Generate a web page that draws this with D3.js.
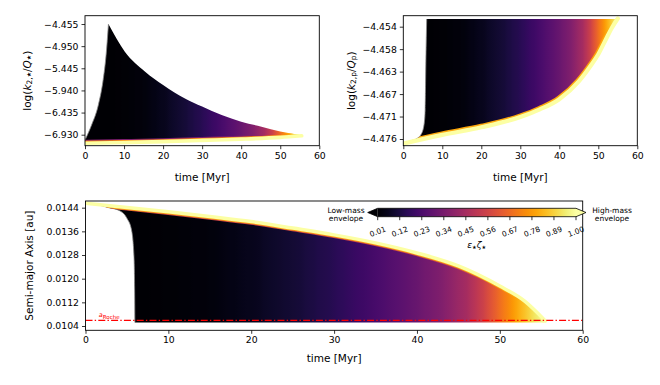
<!DOCTYPE html>
<html>
<head>
<meta charset="utf-8">
<script src="https://cdn.jsdelivr.net/npm/d3@7"></script>
<style>
  body { margin: 0; background: #fff; }
  svg { display: block; font-family: "DejaVu Sans", sans-serif; }
</style>
</head>
<body>
<svg id="main" width="660" height="385"></svg>
<script>
const endTime = [6, 15, 20, 25, 30, 35, 40, 43, 46, 48, 50, 52, 54, 55.5];
const endEps  = [0.01, 0.03, 0.06, 0.10, 0.15, 0.22, 0.30, 0.36, 0.45, 0.55, 0.68, 0.80, 0.92, 1.00];

const cbTicks = [0.01, 0.12, 0.23, 0.34, 0.45, 0.56, 0.67, 0.78, 0.89, 1.00];
const timeTicks = [0, 10, 20, 30, 40, 50, 60];

// top left: log(k2*/Q*)
const starTicks  = [-4.455, -4.950, -5.445, -5.940, -6.435, -6.930];
const starRiseT  = [0, 1.7, 3.4, 4.7, 5.4, 6.0];
const starRiseV  = [-7.05, -6.71, -6.27, -5.67, -5.15, -4.455];
const starDecayT = [6, 10.2, 15.4, 20, 25.6, 30, 35, 40, 45.2, 50, 55.5];
const starDecayV = [-4.455, -5.074, -5.52, -5.82, -6.12, -6.30, -6.49, -6.64, -6.75, -6.86, -6.94];
const starBaseT  = [0, 10, 20, 30, 40, 50, 55.5];
const starBaseV  = [-7.12, -7.105, -7.085, -7.058, -7.03, -6.99, -6.955];

// top right: log(k2p/Qp)
const planetTicks = [-4.4758, -4.4714, -4.4670, -4.4626, -4.4582, -4.4538];
const planetRiseT = [0, 1.7, 3.5, 4.7, 5.4, 5.6, 5.8, 6.0];
const planetRiseV = [-4.4767, -4.4762, -4.4757, -4.4747, -4.4725, -4.4700, -4.4600, -4.4523];
const planetCapT  = [6, 55];
const planetCapV  = [-4.4523, -4.4523];
const planetBaseT = [0, 10, 20, 30, 35, 40, 45, 48, 50, 52, 53.5, 55];
const planetBaseV = [-4.4767, -4.4750, -4.4735, -4.4715, -4.4700, -4.4680, -4.4645, -4.4615, -4.4592, -4.4562, -4.4540, -4.4522];

// bottom: semi-major axis
const aTicks  = [0.0144, 0.0136, 0.0128, 0.0120, 0.0112, 0.0104];
const aRoche  = 0.010592;
const aTopT   = [0, 5, 10, 15, 20, 25, 30, 35, 40, 45, 50, 53, 55.5];
const aTopV   = [0.01455, 0.01441, 0.01426, 0.01410, 0.01393, 0.01371, 0.01348, 0.01321, 0.01287, 0.01243, 0.01175, 0.01124, 0.01057];
const aDropT  = [1.5, 2.65, 4.1, 5.0, 5.56, 5.85, 5.93, 5.96];
const aDropV  = [0.0145, 0.01441, 0.0143, 0.01404, 0.01364, 0.01274, 0.01162, 0.01052];
const aFloorT = [55.5, 5.96];
const aFloorV = [0.01052, 0.01052];

const svg = d3.select('#main');
const defs = svg.append('defs');
const color = d3.scaleSequential(d3.interpolateInferno).domain([0.01, 1]).clamp(true);
const epsAt = d3.scaleLinear().domain(endTime).range(endEps).clamp(true);
const yellow = color(1);

const pts = (ts, vs) => ts.map((t, i) => [t, vs[i]]);
const rev = a => a.slice().reverse();
const joinPaths = (...ds) => ds.map((d, i) => i ? d.replace(/^M/, 'L') : d).join('') + 'Z';


function panel(id, box, yDomain) {
  const x = d3.scaleLinear().domain([0, 60]).range([box.left, box.right]);
  const y = d3.scaleLinear().domain(yDomain).range([box.bottom, box.top]);

  defs.append('clipPath').attr('id', id + '-axes')
    .append('rect')
      .attr('x', box.left).attr('y', box.top)
      .attr('width', box.right - box.left).attr('height', box.bottom - box.top);

  // horizontal gradient; floor lets the edge bands never be darker than the runs under them
  const gradient = (gid, floor) => {
    const t0 = endTime[0], t1 = endTime[endTime.length - 1];
    const grad = defs.append('linearGradient')
        .attr('id', gid)
        .attr('gradientUnits', 'userSpaceOnUse')
        .attr('x1', x(t0)).attr('x2', x(t1)).attr('y1', 0).attr('y2', 0);
    d3.range(t0, t1 + 0.01, 0.5).forEach(t => {
      grad.append('stop')
        .attr('offset', (t - t0) / (t1 - t0))
        .attr('stop-color', color(Math.max(floor, epsAt(t))));
    });
    return `url(#${gid})`;
  };

  const g = svg.append('g').attr('clip-path', `url(#${id}-axes)`);
  const edge = (ts, vs) => d3.line()
      .x(d => x(d[0])).y(d => y(d[1]))
      .curve(d3.curveMonotoneX)(pts(ts, vs));

  return {id, box, x, y, g, edge, gradient};
}


function fill(p, d, bandPath, bands, yellowWidth, rimPath) {
  p.g.append('path').attr('d', d).attr('fill', p.gradient(p.id + '-grad', 0));

  if (rimPath) {
    p.g.append('path')
      .attr('d', rimPath)
      .attr('fill', 'none')
      .attr('stroke', '#8a8a8a')
      .attr('stroke-width', 0.8);
  }

  defs.append('clipPath').attr('id', p.id + '-fill').append('path').attr('d', d);
  const inner = p.g.append('g').attr('clip-path', `url(#${p.id}-fill)`);
  bands.forEach((b, i) => {
    inner.append('path')
      .attr('d', bandPath)
      .attr('fill', 'none')
      .attr('stroke', p.gradient(`${p.id}-band${i}`, b.eps))
      .attr('stroke-width', b.width);
  });
  p.g.append('path')
    .attr('d', bandPath)
    .attr('fill', 'none')
    .attr('stroke', yellow)
    .attr('stroke-width', yellowWidth)
    .attr('stroke-linecap', 'round');
}


function axes(p, yTicks, yFmt, xLabelY) {
  const b = p.box;
  svg.append('g')
      .attr('transform', `translate(0,${b.bottom})`)
      .call(d3.axisBottom(p.x).tickValues(timeTicks).tickSize(3.5).tickPadding(3).tickSizeOuter(0))
      .call(styleAxis);
  svg.append('g')
      .attr('transform', `translate(${b.left},0)`)
      .call(d3.axisLeft(p.y).tickValues(yTicks).tickFormat(yFmt).tickSize(3.5).tickPadding(3).tickSizeOuter(0))
      .call(styleAxis);
  svg.append('rect')
      .attr('x', b.left).attr('y', b.top)
      .attr('width', b.right - b.left).attr('height', b.bottom - b.top)
      .attr('fill', 'none').attr('stroke', '#000').attr('stroke-width', 0.9);
  svg.append('text')
      .attr('x', (b.left + b.right) / 2).attr('y', xLabelY)
      .attr('text-anchor', 'middle').attr('dominant-baseline', 'central')
      .attr('font-size', 10.5)
      .text('time [Myr]');

  function styleAxis(g) {
    g.select('.domain').remove();
    g.attr('font-family', 'DejaVu Sans').attr('font-size', 9.3);
    g.selectAll('.tick line').attr('stroke-width', 0.8);
  }
}


// parts: [text, kind] with kind '' (upright), 'i' (italic), 'sub', 'star' (subscript star)
function mathText(t, parts, subSize) {
  parts.forEach(([s, kind]) => {
    const span = t.append('tspan').text(s);
    if (kind === 'i') span.attr('font-style', 'italic');
    if (kind === 'sub') span.attr('font-size', subSize).attr('baseline-shift', '-25%');
    if (kind === 'star') span.attr('font-size', subSize * 0.8).attr('baseline-shift', '-30%');
  });
}

function yLabel(x, y, parts) {
  const t = svg.append('text')
      .attr('transform', `translate(${x},${y}) rotate(-90)`)
      .attr('text-anchor', 'middle')
      .attr('dominant-baseline', 'central')
      .attr('font-size', 10.5);
  mathText(t, parts, 7.5);
}


// ---- top left
const tl = panel('tl', {left: 85, right: 319.3, top: 15.7, bottom: 145.7}, [-7.176, -4.269]);
fill(tl,
  joinPaths(tl.edge(starRiseT, starRiseV), tl.edge(starDecayT, starDecayV), tl.edge(rev(starBaseT), rev(starBaseV))),
  tl.edge(starBaseT, starBaseV),
  [{eps: 0.35, width: 7}, {eps: 0.75, width: 5}],
  3.6,
  tl.edge(starRiseT, starRiseV));
axes(tl, starTicks, d3.format('.3f'), 177);
yLabel(27, 80.7, [['log(', ''], ['k', 'i'], ['2,', 'sub'], ['★', 'star'], ['/', ''], ['Q', 'i'], ['★', 'star'], [')', '']]);

// ---- top right
const tr = panel('tr', {left: 403.3, right: 637.3, top: 15.7, bottom: 145.7}, [-4.47711, -4.45165]);
fill(tr,
  joinPaths(tr.edge(planetRiseT, planetRiseV), tr.edge(planetCapT, planetCapV), tr.edge(rev(planetBaseT), rev(planetBaseV))),
  tr.edge(planetBaseT, planetBaseV),
  [{eps: 0.8, width: 7}],
  4.2,
  tr.edge(planetRiseT, planetRiseV));
axes(tr, planetTicks, d3.format('.3f'), 177);
yLabel(351, 80.7, [['log(', ''], ['k', 'i'], ['2,p', 'sub'], ['/', ''], ['Q', 'i'], ['p', 'sub'], [')', '']]);

// ---- bottom
const bt = panel('bt', {left: 85.5, right: 582.7, top: 201, bottom: 330.3}, [0.010255, 0.014626]);
fill(bt,
  joinPaths(bt.edge(aTopT, aTopV), bt.edge(aFloorT, aFloorV), bt.edge(rev(aDropT), rev(aDropV))),
  bt.edge(aTopT, aTopV),
  [{eps: 0.55, width: 6.5}, {eps: 0.8, width: 5}],
  3.5,
  bt.edge(aDropT, aDropV));

bt.g.append('line')
    .attr('x1', bt.x(0)).attr('x2', bt.x(60))
    .attr('y1', bt.y(aRoche)).attr('y2', bt.y(aRoche))
    .attr('stroke', '#ff0000').attr('stroke-width', 1.4)
    .attr('stroke-dasharray', '7,2.2,1.4,2.2');
const rl = bt.g.append('text')
    .attr('x', bt.x(1.6)).attr('y', bt.y(0.01072))
    .attr('fill', '#ff0000').attr('font-size', 6.5);
rl.append('tspan').attr('font-style', 'italic').text('a');
rl.append('tspan').attr('font-size', 5.5).attr('baseline-shift', '-25%').text('Roche');

axes(bt, aTicks, d3.format('.4f'), 358);
yLabel(29, 265.6, [['Semi-major Axis [au]', '']]);

// ---- colour bar
const cb = {left: 377.7, right: 576, top: 208.3, bottom: 216.7, ext: 10};
const cx = d3.scaleLinear().domain([0.01, 1]).range([cb.left, cb.right]);
const cbGrad = defs.append('linearGradient').attr('id', 'cb-grad');
d3.range(0, 1.0001, 0.05).forEach(f => {
  cbGrad.append('stop').attr('offset', f).attr('stop-color', color(0.01 + f * 0.99));
});
const cbG = svg.append('g');
const mid = (cb.top + cb.bottom) / 2;
cbG.append('rect')
    .attr('x', cb.left).attr('y', cb.top)
    .attr('width', cb.right - cb.left).attr('height', cb.bottom - cb.top)
    .attr('fill', 'url(#cb-grad)');
cbG.append('path')
    .attr('d', `M${cb.left - cb.ext},${mid}L${cb.left},${cb.top}L${cb.left},${cb.bottom}Z`)
    .attr('fill', color(0.01));
cbG.append('path')
    .attr('d', `M${cb.right + cb.ext},${mid}L${cb.right},${cb.top}L${cb.right},${cb.bottom}Z`)
    .attr('fill', color(1));
cbG.append('path')
    .attr('d', `M${cb.left - cb.ext},${mid}L${cb.left},${cb.top}L${cb.right},${cb.top}L${cb.right + cb.ext},${mid}L${cb.right},${cb.bottom}L${cb.left},${cb.bottom}Z`)
    .attr('fill', 'none').attr('stroke', '#000').attr('stroke-width', 0.8);
cbG.selectAll('.cbtick')
  .data(cbTicks)
  .join('line')
    .attr('x1', d => cx(d)).attr('x2', d => cx(d))
    .attr('y1', cb.bottom).attr('y2', cb.bottom + 3.5)
    .attr('stroke', '#000').attr('stroke-width', 0.8);
cbG.selectAll('.cblabel')
  .data(cbTicks)
  .join('text')
    .attr('transform', d => `translate(${cx(d)},${cb.bottom + 15}) rotate(-20)`)
    .attr('text-anchor', 'middle').attr('dominant-baseline', 'central')
    .attr('font-size', 7.5)
    .text(d => d.toFixed(2));
const cbl = cbG.append('text')
    .attr('x', 476.7).attr('y', 245)
    .attr('text-anchor', 'middle').attr('dominant-baseline', 'central')
    .attr('font-size', 9);
mathText(cbl, [['ε', 'i'], ['★', 'star'], ['ζ', 'i'], ['★', 'star']], 6.5);

[['Low-mass', 'envelope', 346], ['High-mass', 'envelope', 612]].forEach(([a, b, x]) => {
  const t = cbG.append('text')
      .attr('text-anchor', 'middle').attr('font-size', 7.5);
  t.append('tspan').attr('x', x).attr('y', 213).text(a);
  t.append('tspan').attr('x', x).attr('y', 221).text(b);
});
</script>
</body>
</html>
